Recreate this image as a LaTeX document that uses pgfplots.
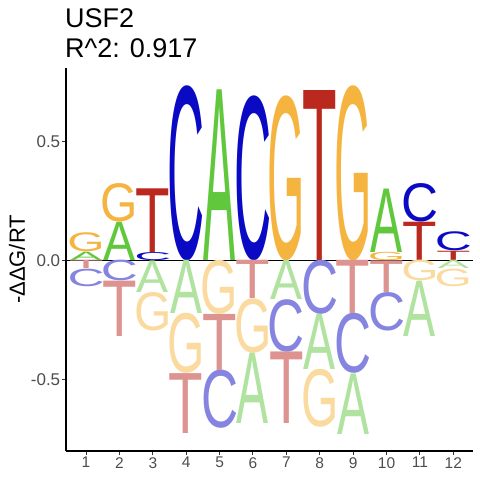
\documentclass[border=0pt]{standalone}
\usepackage{fontspec}
\setmainfont{Liberation Sans}
\usepackage{graphicx}
\usepackage{pgfplots}
\usepackage{pgfplotstable}
\pgfplotsset{compat=1.18}
\definecolor{cA}{HTML}{61C83E}
\definecolor{cC}{HTML}{0A0AC4}
\definecolor{cG}{HTML}{F5B43F}
\definecolor{cT}{HTML}{BA281E}
\colorlet{lA}{cA!50!white}
\colorlet{lC}{cC!50!white}
\colorlet{lG}{cG!50!white}
\colorlet{lT}{cT!50!white}
\definecolor{grey30}{HTML}{4D4D4D}
\newdimen\yunit \yunit=237.6pt
\def\wA{32pt}\def\wC{37pt}\def\wG{37.3pt}\def\wT{34.5pt}
\pgfplotsset{
  logo/.style 2 args={draw=none, mark=none,
    point meta=explicit symbolic,
    nodes near coords={\color{#2}\resizebox*{\csname w#1\endcsname}{\pgfplotspointmeta\yunit}{#1}},
    nodes near coords style={anchor=south, inner sep=0pt, outer sep=0pt},
  }
}
% positive letters: x, bottom, height
\pgfplotstableread{
x lo h
1 0 0.035
2 0 0.161
5 0 0.718
10 0.035 0.267
}\posA
\pgfplotstableread{
x lo h
3 0 0.034
4 0 0.737
6 0 0.694
11 0.161 0.162
12 0.039 0.080
}\posC
\pgfplotstableread{
x lo h
1 0.035 0.080
2 0.161 0.162
7 0 0.694
9 0 0.737
10 0 0.035
}\posG
\pgfplotstableread{
x lo h
3 0.034 0.268
8 0 0.715
11 0 0.161
12 0 0.039
}\posT
% negative letters
\pgfplotstableread{
x lo h
3 -0.133 0.133
4 -0.224 0.224
6 -0.687 0.297
7 -0.165 0.165
8 -0.460 0.233
9 -0.732 0.255
11 -0.320 0.233
12 -0.035 0.035
}\negA
\pgfplotstableread{
x lo h
1 -0.109 0.074
2 -0.087 0.087
5 -0.708 0.245
7 -0.386 0.221
8 -0.227 0.227
9 -0.477 0.253
10 -0.295 0.162
}\negC
\pgfplotstableread{
x lo h
3 -0.295 0.162
4 -0.477 0.253
5 -0.227 0.227
6 -0.390 0.229
8 -0.704 0.244
11 -0.087 0.087
12 -0.109 0.074
}\negG
\pgfplotstableread{
x lo h
1 -0.035 0.035
2 -0.320 0.233
4 -0.729 0.252
5 -0.463 0.236
6 -0.161 0.161
7 -0.687 0.301
9 -0.224 0.224
10 -0.133 0.133
}\negT
\begin{document}
\begin{tikzpicture}
\useasboundingbox (0,0) rectangle (480pt,480pt);
\begin{axis}[
  at={(66pt,29pt)}, anchor=south west,
  x=33.39pt, y=237.6pt,
  xmin=0.4, xmax=12.6, ymin=-0.802, ymax=0.81,
  axis x line*=bottom, axis y line*=left,
  axis line style={line width=1.1pt, black, -},
  xtick={1,2,3,4,5,6,7,8,9,10,11,12},
  xticklabels={1,2,3,4,5,6,7,8,9,10,11,12},
  ytick={-0.5,0,0.5}, yticklabels={-0.5,0.0,0.5},
  tick align=outside, major tick length=3.6pt,
  tick style={line width=1pt, black!80},
  x tick label style={font=\fontsize{15.5}{15.5}\selectfont, text=grey30, inner sep=2.5pt},
  y tick label style={font=\fontsize{17}{17}\selectfont, text=grey30, inner sep=2pt},
  ylabel={-ΔΔG/RT},
  ylabel style={at={(axis description cs:-0.1007,0.5)}, anchor=base, font=\fontsize{22}{22}\selectfont, inner sep=0pt},
  every axis title shift=0pt,
  title={USF2\\R\textasciicircum 2: 0.917},
  title style={at={(axis description cs:0,1)}, anchor=base west, align=left, font=\fontsize{27}{29.7}\selectfont, yshift=10.3pt, xshift=-1pt, inner sep=0pt},
]
\addplot[logo={A}{cA}] table[x=x,y=lo,meta=h] {\posA};
\addplot[logo={C}{cC}] table[x=x,y=lo,meta=h] {\posC};
\addplot[logo={G}{cG}] table[x=x,y=lo,meta=h] {\posG};
\addplot[logo={T}{cT}] table[x=x,y=lo,meta=h] {\posT};
\addplot[logo={A}{lA}] table[x=x,y=lo,meta=h] {\negA};
\addplot[logo={C}{lC}] table[x=x,y=lo,meta=h] {\negC};
\addplot[logo={G}{lG}] table[x=x,y=lo,meta=h] {\negG};
\addplot[logo={T}{lT}] table[x=x,y=lo,meta=h] {\negT};
\addplot[black, line width=0.8pt] coordinates {(0.4,0) (12.6,0)};
\end{axis}
\end{tikzpicture}
\end{document}
